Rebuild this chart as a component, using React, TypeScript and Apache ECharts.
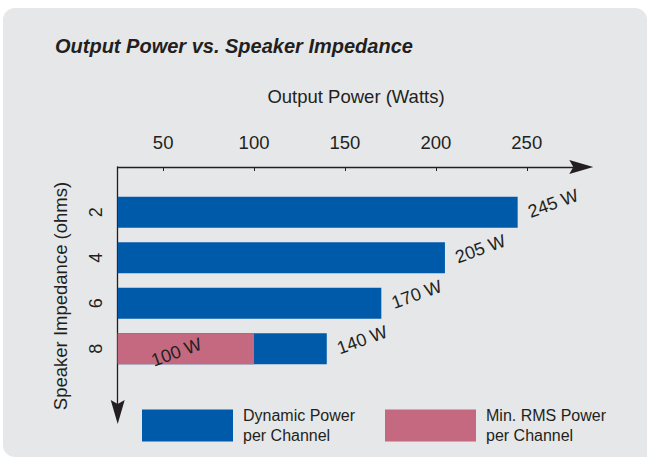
import React, { useEffect, useRef } from "react";
import * as echarts from "echarts";

const categories = ["2", "4", "6", "8"];
const dynamicPower = [245, 205, 170, 140];
const rmsPower: (number | null)[] = [null, null, null, 100];
const xTickValues = [50, 100, 150, 200, 250];
const xMin = 25;
const xMax = 280;

const titleText = "Output Power vs. Speaker Impedance";
const xName = "Output Power (Watts)";
const yName = "Speaker Impedance (ohms)";
const dynName = "Dynamic Power per Channel";
const rmsName = "Min. RMS Power per Channel";

const BLUE = "#005aaa";
const PINK = "#c46980";
const INK = "#231f20";
const FONT = "'Liberation Sans', Arial, Helvetica, sans-serif";
const ARROW = "path://M7,0L14,24L7,20L0,24Z";

export default function App() {
  const ref = useRef<HTMLDivElement>(null);
  useEffect(() => {
    if (!ref.current) return;
    const chart = echarts.init(ref.current, undefined, { renderer: "svg" });
    const L = 117.7;
    const R = 648 - 581.3;
    const legendFmt = (n: string) => n.replace(" per ", "\nper ");
    const legendText = {
      fontSize: 16,
      lineHeight: 19.5,
      color: INK,
      fontFamily: FONT,
      padding: [8, 0, 0, 5],
    };
    chart.setOption({
      animation: false,
      textStyle: { fontFamily: FONT, color: INK },
      graphic: [
        {
          type: "rect",
          z: -100,
          silent: true,
          shape: { x: 3, y: 8, width: 644, height: 449, r: [12, 12, 0, 12] },
          style: { fill: "#e6e7e9" },
        },
      ],
      title: {
        text: titleText,
        left: 55,
        top: 36,
        padding: 0,
        textStyle: {
          fontSize: 20,
          fontWeight: "bold",
          fontStyle: "italic",
          color: INK,
          fontFamily: FONT,
        },
      },
      legend: [
        {
          data: [dynName],
          left: 142,
          top: 402,
          padding: 0,
          itemWidth: 91,
          itemHeight: 32,
          icon: "rect",
          formatter: legendFmt,
          textStyle: legendText,
          selectedMode: false,
        },
        {
          data: [rmsName],
          left: 385,
          top: 402,
          padding: 0,
          itemWidth: 91,
          itemHeight: 32,
          icon: "rect",
          formatter: legendFmt,
          textStyle: legendText,
          selectedMode: false,
        },
      ],
      grid: [
        { left: L, right: R, top: 189.5, bottom: 461 - 371.5 },
        { left: L, right: R, top: 167, bottom: 461 - 412 },
      ],
      xAxis: [
        { type: "value", gridIndex: 0, min: xMin, max: xMax, show: false },
        {
          type: "value",
          gridIndex: 1,
          min: xMin,
          max: xMax,
          position: "top",
          name: xName,
          nameLocation: "middle",
          nameGap: 61,
          nameTextStyle: { fontSize: 18.5, color: INK, padding: [0, 0, 0, 13] },
          axisLine: {
            show: true,
            onZero: false,
            symbol: ["none", ARROW],
            symbolSize: [14, 24],
            lineStyle: { color: INK, width: 1.3 },
          },
          axisTick: {
            show: true,
            inside: true,
            length: 4,
            customValues: xTickValues,
            lineStyle: { color: INK, width: 1 },
          },
          axisLabel: {
            customValues: xTickValues,
            fontSize: 18.5,
            color: INK,
            margin: 15,
          },
          splitLine: { show: false },
        },
      ],
      yAxis: [
        {
          type: "category",
          gridIndex: 0,
          data: categories,
          inverse: true,
          axisLine: { show: false },
          axisTick: { show: false },
          axisLabel: { rotate: 90, fontSize: 18, color: INK, margin: 13 },
          splitLine: { show: false },
        },
        {
          type: "value",
          gridIndex: 1,
          min: 0,
          max: 1,
          position: "left",
          name: yName,
          nameLocation: "middle",
          nameGap: 48,
          nameTextStyle: { fontSize: 18.5, color: INK, padding: [0, 13, 0, 0] },
          axisLine: {
            show: true,
            onZero: false,
            symbol: [ARROW, "none"],
            symbolSize: [14, 24],
            lineStyle: { color: INK, width: 1.3 },
          },
          axisTick: { show: false },
          axisLabel: { show: false },
          splitLine: { show: false },
        },
      ],
      series: [
        {
          name: dynName,
          type: "bar",
          xAxisIndex: 0,
          yAxisIndex: 0,
          data: dynamicPower,
          barWidth: 31,
          barGap: "-100%",
          clip: true,
          itemStyle: { color: BLUE },
          label: {
            show: true,
            position: "right",
            distance: 11,
            rotate: 20,
            formatter: "{c} W",
            fontSize: 18,
            color: INK,
          },
        },
        {
          name: rmsName,
          type: "bar",
          xAxisIndex: 0,
          yAxisIndex: 0,
          data: rmsPower,
          barWidth: 31,
          barGap: "-100%",
          clip: true,
          itemStyle: { color: PINK },
          label: {
            show: true,
            position: "inside",
            rotate: 20,
            offset: [-10, 0],
            formatter: "{c} W",
            fontSize: 18,
            color: INK,
          },
        },
      ],
    });
    return () => chart.dispose();
  }, []);
  return (
    <div
      ref={ref}
      style={{ position: "fixed", left: 0, top: 0, width: 648, height: 461, background: "#ffffff" }}
    />
  );
}
